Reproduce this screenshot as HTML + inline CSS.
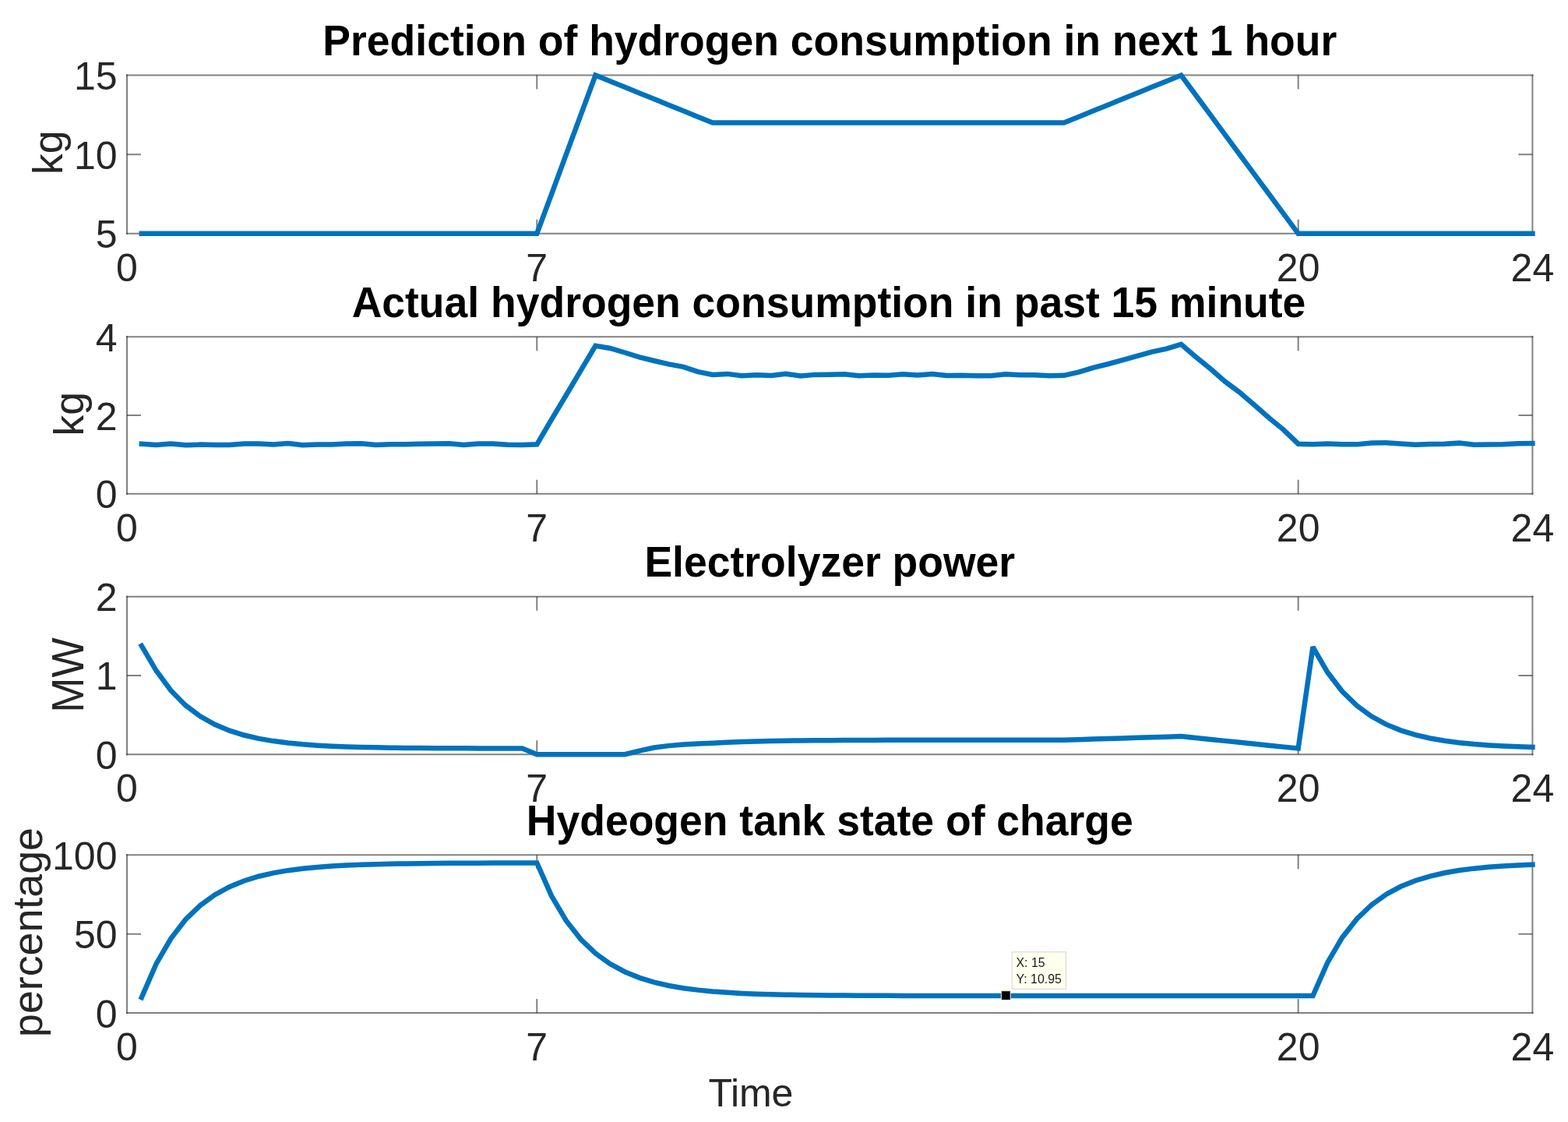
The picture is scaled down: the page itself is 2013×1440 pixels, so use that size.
<!DOCTYPE html>
<html lang="en">
<head>
<meta charset="utf-8">
<title>Hydrogen consumption, electrolyzer power and tank state of charge</title>
<style>
html,body{margin:0;padding:0;background:#ffffff;}
body{width:2013px;height:1440px;}
svg{display:block;}
text{white-space:pre;}
</style>
</head>
<body>
<svg width="2013" height="1440" viewBox="0 0 2013 1440" font-family="'Liberation Sans', sans-serif">
<rect x="0" y="0" width="2013" height="1440" fill="#ffffff"/>
<g class="axes" id="ax1">
<path d="M689.28 299.85V281.85M689.28 96.6V114.6M1666.67 299.85V281.85M1666.67 96.6V114.6M163 198.23H181M1967.4 198.23H1949.4" fill="none" stroke="#262626" stroke-opacity="0.58" stroke-width="2"/>
<path d="M162 96.6H1968.4M162 299.85H1968.4" fill="none" stroke="#262626" stroke-opacity="0.58" stroke-width="2"/>
<path d="M163 95.6V300.85M1967.4 95.6V300.85" fill="none" stroke="#262626" stroke-opacity="0.58" stroke-width="2"/>
<polyline points="181.8,299.85 200.59,299.85 219.39,299.85 238.18,299.85 256.98,299.85 275.77,299.85 294.57,299.85 313.37,299.85 332.16,299.85 350.96,299.85 369.75,299.85 388.55,299.85 407.35,299.85 426.14,299.85 444.94,299.85 463.73,299.85 482.53,299.85 501.33,299.85 520.12,299.85 538.92,299.85 557.71,299.85 576.51,299.85 595.3,299.85 614.1,299.85 632.9,299.85 651.69,299.85 670.49,299.85 689.28,299.85 708.08,249.04 726.88,198.23 745.67,147.41 764.47,96.6 783.26,104.22 802.06,111.84 820.85,119.47 839.65,127.09 858.45,134.71 877.24,142.33 896.04,149.95 914.83,157.58 933.63,157.58 952.43,157.58 971.22,157.58 990.02,157.58 1008.81,157.58 1027.61,157.58 1046.4,157.58 1065.2,157.58 1084,157.58 1102.79,157.58 1121.59,157.58 1140.38,157.58 1159.18,157.58 1177.97,157.58 1196.77,157.58 1215.57,157.58 1234.36,157.58 1253.16,157.58 1271.95,157.58 1290.75,157.58 1309.55,157.58 1328.34,157.58 1347.14,157.58 1365.93,157.58 1384.73,149.95 1403.53,142.33 1422.32,134.71 1441.12,127.09 1459.91,119.47 1478.71,111.84 1497.5,104.22 1516.3,96.6 1535.1,122.01 1553.89,147.41 1572.69,172.82 1591.48,198.23 1610.28,223.63 1629.08,249.04 1647.87,274.44 1666.67,299.85 1685.46,299.85 1704.26,299.85 1723.05,299.85 1741.85,299.85 1760.65,299.85 1779.44,299.85 1798.24,299.85 1817.03,299.85 1835.83,299.85 1854.62,299.85 1873.42,299.85 1892.22,299.85 1911.01,299.85 1929.81,299.85 1948.6,299.85 1967.4,299.85" fill="none" stroke="#0072bd" stroke-width="6.5" stroke-linejoin="miter" stroke-miterlimit="3" stroke-linecap="square"/>
<text transform="translate(150.5 318.35)" font-size="50" fill="#262626" text-anchor="end">5</text>
<text transform="translate(150.5 216.73)" font-size="50" fill="#262626" text-anchor="end">10</text>
<text transform="translate(150.5 115.1)" font-size="50" fill="#262626" text-anchor="end">15</text>
<text transform="translate(163 361.15)" font-size="50" fill="#262626" text-anchor="middle">0</text>
<text transform="translate(689.28 361.15)" font-size="50" fill="#262626" text-anchor="middle">7</text>
<text transform="translate(1666.67 361.15)" font-size="50" fill="#262626" text-anchor="middle">20</text>
<text transform="translate(1967.4 361.15)" font-size="50" fill="#262626" text-anchor="middle">24</text>
<text transform="translate(80 195.8) rotate(-90) scale(1.01 1)" font-size="53" fill="#262626" text-anchor="middle">kg</text>
<text transform="translate(1065.3 71) scale(0.973 1)" font-size="55" fill="#000000" text-anchor="middle" font-weight="bold">Prediction of hydrogen consumption in next 1 hour</text>
</g>
<g class="axes" id="ax2">
<path d="M689.28 633.8V615.8M689.28 432.3V450.3M1666.67 633.8V615.8M1666.67 432.3V450.3M163 533.05H181M1967.4 533.05H1949.4" fill="none" stroke="#262626" stroke-opacity="0.58" stroke-width="2"/>
<path d="M162 432.3H1968.4M162 633.8H1968.4" fill="none" stroke="#262626" stroke-opacity="0.58" stroke-width="2"/>
<path d="M163 431.3V634.8M1967.4 431.3V634.8" fill="none" stroke="#262626" stroke-opacity="0.58" stroke-width="2"/>
<polyline points="181.8,569.62 200.59,570.88 219.39,569.49 238.18,571.15 256.98,570.6 275.77,571.02 294.57,570.88 313.37,569.49 332.16,569.62 350.96,570.6 369.75,568.93 388.55,571.15 407.35,570.6 426.14,570.46 444.94,569.62 463.73,569.35 482.53,571.02 501.33,570.18 520.12,570.32 538.92,569.76 557.71,569.49 576.51,569.35 595.3,570.88 614.1,569.62 632.9,569.49 651.69,570.74 670.49,570.88 689.28,570.32 708.08,538.3 726.88,507 745.67,475.4 764.47,443.8 783.26,447 802.06,452.5 820.85,458.4 839.65,463 858.45,467.4 877.24,470.9 896.04,477.2 914.83,480.88 933.63,479.9 952.43,482.27 971.22,481.15 990.02,481.99 1008.81,479.76 1027.61,482.55 1046.4,480.88 1065.2,480.74 1084,480.32 1102.79,482.27 1121.59,481.43 1140.38,481.71 1159.18,480.32 1177.97,481.43 1196.77,480.04 1215.57,481.99 1234.36,481.71 1253.16,482.27 1271.95,482.27 1290.75,480.32 1309.55,481.29 1328.34,481.15 1347.14,482.13 1365.93,481.86 1384.73,477.69 1403.53,471.95 1422.32,467.25 1441.12,462.04 1459.91,456.82 1478.71,451.6 1497.5,447.6 1516.3,441.87 1535.1,458.04 1553.89,473.34 1572.69,489.68 1591.48,503.6 1610.28,519.77 1629.08,536.28 1647.87,551.59 1666.67,569.67 1685.46,570.19 1704.26,569.5 1723.05,570.37 1741.85,570.37 1760.65,568.45 1779.44,568.28 1798.24,569.5 1817.03,570.71 1835.83,570.02 1854.62,569.67 1873.42,568.63 1892.22,570.71 1911.01,570.54 1929.81,570.19 1948.6,569.32 1967.4,569.15" fill="none" stroke="#0072bd" stroke-width="6.5" stroke-linejoin="miter" stroke-miterlimit="3" stroke-linecap="square"/>
<text transform="translate(150.5 652.3)" font-size="50" fill="#262626" text-anchor="end">0</text>
<text transform="translate(150.5 551.55)" font-size="50" fill="#262626" text-anchor="end">2</text>
<text transform="translate(150.5 450.8)" font-size="50" fill="#262626" text-anchor="end">4</text>
<text transform="translate(163 695.1)" font-size="50" fill="#262626" text-anchor="middle">0</text>
<text transform="translate(689.28 695.1)" font-size="50" fill="#262626" text-anchor="middle">7</text>
<text transform="translate(1666.67 695.1)" font-size="50" fill="#262626" text-anchor="middle">20</text>
<text transform="translate(1967.4 695.1)" font-size="50" fill="#262626" text-anchor="middle">24</text>
<text transform="translate(106.9 531.3) rotate(-90) scale(1.01 1)" font-size="53" fill="#262626" text-anchor="middle">kg</text>
<text transform="translate(1064 406.7) scale(0.973 1)" font-size="55" fill="#000000" text-anchor="middle" font-weight="bold">Actual hydrogen consumption in past 15 minute</text>
</g>
<g class="axes" id="ax3">
<path d="M689.28 968.15V950.15M689.28 765.7V783.7M1666.67 968.15V950.15M1666.67 765.7V783.7M163 866.92H181M1967.4 866.92H1949.4" fill="none" stroke="#262626" stroke-opacity="0.58" stroke-width="2"/>
<path d="M162 765.7H1968.4M162 968.15H1968.4" fill="none" stroke="#262626" stroke-opacity="0.58" stroke-width="2"/>
<path d="M163 764.7V969.15M1967.4 764.7V969.15" fill="none" stroke="#262626" stroke-opacity="0.58" stroke-width="2"/>
<polyline points="181.8,828.97 200.59,860.79 219.39,886.23 238.18,905.18 256.98,919.3 275.77,929.82 294.57,937.66 313.37,943.5 332.16,947.85 350.96,951.09 369.75,953.5 388.55,955.3 407.35,956.64 426.14,957.64 444.94,958.39 463.73,958.94 482.53,959.35 501.33,959.66 520.12,959.89 538.92,960.06 557.71,960.19 576.51,960.28 595.3,960.35 614.1,960.4 632.9,960.44 651.69,960.47 670.49,960.49 689.28,968.15 708.08,968.15 726.88,968.15 745.67,968.15 764.47,968.15 783.26,968.15 802.06,968.15 820.85,963.59 839.65,959.55 858.45,957.12 877.24,955.6 896.04,954.59 914.83,953.67 933.63,952.69 952.43,951.95 971.22,951.4 990.02,950.98 1008.81,950.67 1027.61,950.44 1046.4,950.26 1065.2,950.13 1084,950.03 1102.79,949.95 1121.59,949.9 1140.38,949.85 1159.18,949.82 1177.97,949.8 1196.77,949.78 1215.57,949.77 1234.36,949.76 1253.16,949.75 1271.95,949.74 1290.75,949.74 1309.55,949.74 1328.34,949.73 1347.14,949.73 1365.93,949.73 1384.73,949.15 1403.53,948.56 1422.32,947.98 1441.12,947.4 1459.91,946.82 1478.71,946.23 1497.5,945.65 1516.3,945.07 1535.1,947.01 1553.89,948.94 1572.69,950.88 1591.48,952.81 1610.28,954.75 1629.08,956.69 1647.87,958.62 1666.67,960.56 1685.46,830.28 1704.26,862.85 1723.05,887.28 1741.85,905.6 1760.65,919.34 1779.44,929.64 1798.24,937.37 1817.03,943.17 1835.83,947.52 1854.62,950.78 1873.42,953.22 1892.22,955.06 1911.01,956.43 1929.81,957.46 1948.6,958.24 1967.4,958.82" fill="none" stroke="#0072bd" stroke-width="6.5" stroke-linejoin="miter" stroke-miterlimit="3" stroke-linecap="square"/>
<text transform="translate(150.5 986.65)" font-size="50" fill="#262626" text-anchor="end">0</text>
<text transform="translate(150.5 885.42)" font-size="50" fill="#262626" text-anchor="end">1</text>
<text transform="translate(150.5 784.2)" font-size="50" fill="#262626" text-anchor="end">2</text>
<text transform="translate(163 1029.45)" font-size="50" fill="#262626" text-anchor="middle">0</text>
<text transform="translate(689.28 1029.45)" font-size="50" fill="#262626" text-anchor="middle">7</text>
<text transform="translate(1666.67 1029.45)" font-size="50" fill="#262626" text-anchor="middle">20</text>
<text transform="translate(1967.4 1029.45)" font-size="50" fill="#262626" text-anchor="middle">24</text>
<text transform="translate(106.5 866.4) rotate(-90) scale(0.962 1)" font-size="56.5" fill="#262626" text-anchor="middle">MW</text>
<text transform="translate(1065.3 739.6) scale(0.973 1)" font-size="55" fill="#000000" text-anchor="middle" font-weight="bold">Electrolyzer power</text>
</g>
<g class="axes" id="ax4">
<path d="M689.28 1300V1282M689.28 1097.3V1115.3M1666.67 1300V1282M1666.67 1097.3V1115.3M163 1198.65H181M1967.4 1198.65H1949.4" fill="none" stroke="#262626" stroke-opacity="0.58" stroke-width="2"/>
<path d="M162 1097.3H1968.4M162 1300H1968.4" fill="none" stroke="#262626" stroke-opacity="0.58" stroke-width="2"/>
<path d="M163 1096.3V1301M1967.4 1096.3V1301" fill="none" stroke="#262626" stroke-opacity="0.58" stroke-width="2"/>
<polyline points="181.8,1280.14 200.59,1236.96 219.39,1204.58 238.18,1180.29 256.98,1162.08 275.77,1148.42 294.57,1138.17 313.37,1130.49 332.16,1124.72 350.96,1120.4 369.75,1117.16 388.55,1114.73 407.35,1112.91 426.14,1111.54 444.94,1110.51 463.73,1109.74 482.53,1109.17 501.33,1108.73 520.12,1108.41 538.92,1108.17 557.71,1107.98 576.51,1107.85 595.3,1107.74 614.1,1107.67 632.9,1107.61 651.69,1107.56 670.49,1107.53 689.28,1107.51 708.08,1149.9 726.88,1181.68 745.67,1205.58 764.47,1223.55 783.26,1237.07 802.06,1247.23 820.85,1254.87 839.65,1260.62 858.45,1264.94 877.24,1268.19 896.04,1270.64 914.83,1272.47 933.63,1273.86 952.43,1274.9 971.22,1275.68 990.02,1276.27 1008.81,1276.71 1027.61,1277.04 1046.4,1277.29 1065.2,1277.48 1084,1277.62 1102.79,1277.73 1121.59,1277.81 1140.38,1277.87 1159.18,1277.91 1177.97,1277.94 1196.77,1277.97 1215.57,1277.99 1234.36,1278 1253.16,1278.01 1271.95,1278.02 1290.75,1278.03 1309.55,1278.03 1328.34,1278.04 1347.14,1278.04 1365.93,1278.04 1384.73,1278.04 1403.53,1278.04 1422.32,1278.05 1441.12,1278.05 1459.91,1278.05 1478.71,1278.05 1497.5,1278.05 1516.3,1278.05 1535.1,1278.05 1553.89,1278.05 1572.69,1278.05 1591.48,1278.05 1610.28,1278.05 1629.08,1278.05 1647.87,1278.05 1666.67,1278.05 1685.46,1278.05 1704.26,1235.39 1723.05,1203.4 1741.85,1179.41 1760.65,1161.42 1779.44,1147.92 1798.24,1137.8 1817.03,1130.21 1835.83,1124.52 1854.62,1120.25 1873.42,1117.04 1892.22,1114.64 1911.01,1112.84 1929.81,1111.49 1948.6,1110.47 1967.4,1109.71" fill="none" stroke="#0072bd" stroke-width="6.5" stroke-linejoin="miter" stroke-miterlimit="3" stroke-linecap="square"/>
<text transform="translate(150.5 1318.5)" font-size="50" fill="#262626" text-anchor="end">0</text>
<text transform="translate(150.5 1217.15)" font-size="50" fill="#262626" text-anchor="end">50</text>
<text transform="translate(150.5 1115.8)" font-size="50" fill="#262626" text-anchor="end">100</text>
<text transform="translate(163 1361.3)" font-size="50" fill="#262626" text-anchor="middle">0</text>
<text transform="translate(689.28 1361.3)" font-size="50" fill="#262626" text-anchor="middle">7</text>
<text transform="translate(1666.67 1361.3)" font-size="50" fill="#262626" text-anchor="middle">20</text>
<text transform="translate(1967.4 1361.3)" font-size="50" fill="#262626" text-anchor="middle">24</text>
<text transform="translate(53.8 1196.5) rotate(-90) scale(0.995 1)" font-size="54" fill="#262626" text-anchor="middle">percentage</text>
<text transform="translate(1065.3 1072) scale(0.973 1)" font-size="55" fill="#000000" text-anchor="middle" font-weight="bold">Hydeogen tank state of charge</text>
</g>
<text transform="translate(909.4 1420.3)" font-size="50" fill="#262626" letter-spacing="-0.15">Time</text>
<g id="datatip">
<rect x="1299.15" y="1221.8" width="69.35" height="47.5" fill="#ffffee" stroke="#d4d4d4" stroke-width="1"/>
<text transform="translate(1304.5 1240.7) scale(0.978 1)" font-size="16.3" fill="#1a1a1a">X: 15</text>
<text transform="translate(1304.5 1261.6) scale(0.978 1)" font-size="16.3" fill="#1a1a1a">Y: 10.95</text>
<rect x="1285.4" y="1271.7" width="11.8" height="11.8" fill="#000000" stroke="#efefc6" stroke-width="1"/>
</g>
</svg>
</body>
</html>
